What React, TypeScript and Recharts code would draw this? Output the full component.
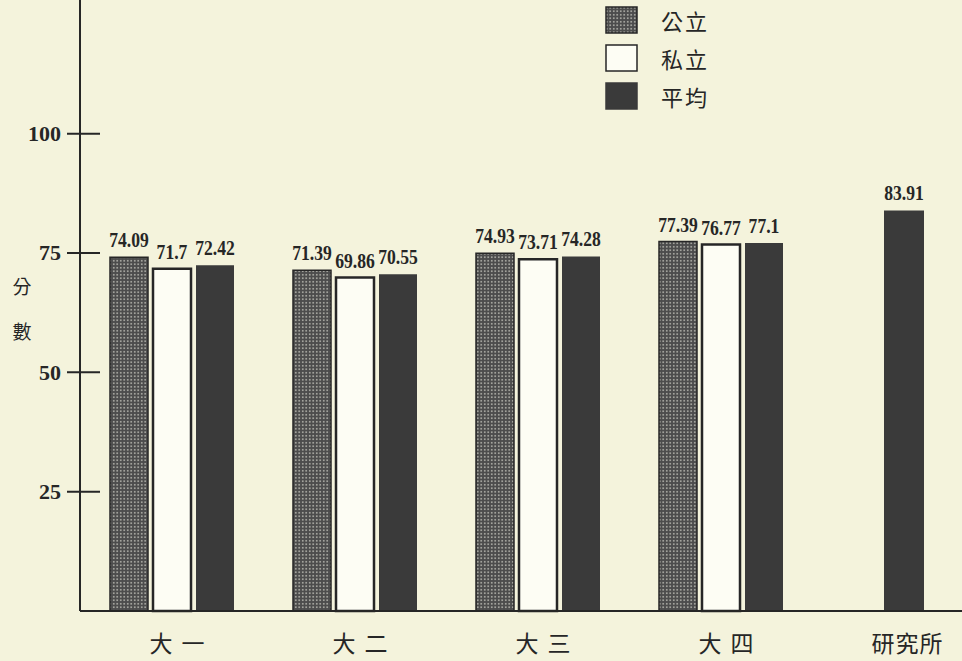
// Score comparison by year level: public vs private vs overall average
import { BarChart, Bar, XAxis, YAxis, LabelList, Legend, Label } from 'recharts';

const categories = ['大一', '大二', '大三', '大四', '研究所'];
const publicScores = [74.09, 71.39, 74.93, 77.39, null];
const privateScores = [71.7, 69.86, 73.71, 76.77, null];
const averageScores = [72.42, 70.55, 74.28, 77.1, 83.91];
const yTicks = [25, 50, 75, 100];

const seriesNames = ['公立', '私立', '平均'];

// graduate level has only the average, drawn centred on its own axis
const rows = categories.map((name, i) => ({
  name,
  pub: publicScores[i],
  priv: privateScores[i],
  avg: i < 4 ? averageScores[i] : null,
  gradAvg: i === 4 ? averageScores[i] : null,
}));

const INK = '#262626';
const DARK = '#3a3a3a';
const PAPER = '#f4f3dc';
const CJK = '"Noto Sans CJK TC", "Noto Sans CJK SC", sans-serif';
const NUM = '"Liberation Serif", "DejaVu Serif", serif';

function StipplePattern({ id }: { id: string }) {
  return (
    <pattern id={id} width={3.5} height={3.5} patternUnits="userSpaceOnUse">
      <rect width={3.5} height={3.5} fill="#4c4c4c" />
      <circle cx={1.75} cy={1.75} r={0.85} fill="#c0c0b8" />
    </pattern>
  );
}

function YTick(props: any) {
  const { x, y, payload } = props;
  return (
    <g>
      <line x1={x - 13} x2={x + 20} y1={y} y2={y} stroke={INK} strokeWidth={2} />
      <text
        x={x - 19}
        y={y}
        textAnchor="end"
        dominantBaseline="central"
        fontFamily={NUM}
        fontWeight="bold"
        fontSize={22}
        fill={INK}
      >
        {payload.value}
      </text>
    </g>
  );
}

function XTick(props: any) {
  const { x, y, payload } = props;
  const label = String(payload.value);
  return (
    <text
      x={x + (label.length === 2 ? 10 : 4)}
      y={y + 41}
      textAnchor="middle"
      fontFamily={CJK}
      fontSize={23}
      letterSpacing={label.length === 2 ? 9 : 1}
      fill={INK}
    >
      {label}
    </text>
  );
}

// narrow, tall figures above each bar
function renderValue(props: any) {
  const { x, y, width, value } = props;
  if (value == null) return null;
  return (
    <text
      transform={`translate(${x + width / 2}, ${y - 10}) scale(0.88, 1)`}
      textAnchor="middle"
      fontFamily={NUM}
      fontWeight="bold"
      fontSize={20}
      fill={INK}
    >
      {value}
    </text>
  );
}

function renderLegend() {
  const swatches = [
    { fill: 'url(#stipple-legend)', stroke: INK },
    { fill: '#fdfdf4', stroke: INK },
    { fill: DARK, stroke: DARK },
  ];
  return (
    <div>
      {seriesNames.map((name, i) => (
        <div key={name} style={{ display: 'flex', alignItems: 'center', height: 38 }}>
          <svg width={33} height={28} style={{ display: 'block' }}>
            <defs>
              <StipplePattern id="stipple-legend" />
            </defs>
            <rect x={1} y={1} width={31} height={26} fill={swatches[i].fill} stroke={swatches[i].stroke} strokeWidth={1.5} />
          </svg>
          <span
            style={{
              marginLeft: 23,
              fontFamily: CJK,
              fontSize: 22,
              letterSpacing: 2,
              color: INK,
              lineHeight: 1,
            }}
          >
            {name}
          </span>
        </div>
      ))}
    </div>
  );
}

function YTitle(props: any) {
  const { viewBox } = props;
  const x = viewBox.x + 22;
  return (
    <g fontFamily={CJK} fontSize={19} fill={INK}>
      <text x={x} y={294} textAnchor="middle">分</text>
      <text x={x} y={339} textAnchor="middle">數</text>
    </g>
  );
}

export default function App() {
  return (
    <div style={{ width: 962, height: 661, overflow: 'hidden', position: 'relative', background: PAPER }}>
      <style>{'body{margin:0}'}</style>
      <BarChart
        width={1000}
        height={661}
        data={rows}
        margin={{ top: 0, right: 5, bottom: 0, left: 0 }}
        barGap={5}
      >
        <defs>
          <StipplePattern id="stipple" />
        </defs>
        <XAxis
          dataKey="name"
          height={50}
          tickLine={false}
          tickSize={0}
          tickMargin={0}
          axisLine={{ stroke: INK, strokeWidth: 2 }}
          tick={<XTick />}
          interval={0}
        />
        <XAxis xAxisId="solo" dataKey="name" hide />
        <YAxis
          width={80}
          domain={[0, 128]}
          ticks={yTicks}
          tickLine={false}
          tickSize={0}
          tickMargin={0}
          axisLine={{ stroke: INK, strokeWidth: 2 }}
          tick={<YTick />}
          interval={0}
        >
          <Label content={<YTitle />} />
        </YAxis>
        <Legend
          layout="vertical"
          align="center"
          verticalAlign="middle"
          content={renderLegend}
          wrapperStyle={{ position: 'absolute', left: 605, top: 1, width: 120, height: 114 }}
        />
        <Bar dataKey="pub" name={seriesNames[0]} barSize={38} fill="url(#stipple)" stroke={INK} strokeWidth={1.5} isAnimationActive={false}>
          <LabelList dataKey="pub" content={renderValue} />
        </Bar>
        <Bar dataKey="priv" name={seriesNames[1]} barSize={38} fill="#fdfdf4" stroke={INK} strokeWidth={2.5} isAnimationActive={false}>
          <LabelList dataKey="priv" content={renderValue} />
        </Bar>
        <Bar dataKey="avg" name={seriesNames[2]} barSize={38} fill={DARK} isAnimationActive={false}>
          <LabelList dataKey="avg" content={renderValue} />
        </Bar>
        <Bar xAxisId="solo" dataKey="gradAvg" name={seriesNames[2]} barSize={40} fill={DARK} isAnimationActive={false}>
          <LabelList dataKey="gradAvg" content={renderValue} />
        </Bar>
      </BarChart>
    </div>
  );
}
